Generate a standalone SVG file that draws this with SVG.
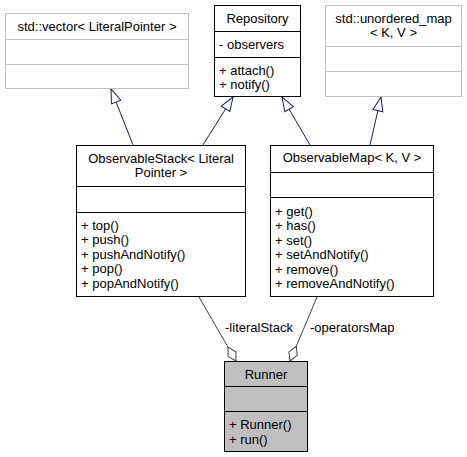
<svg xmlns="http://www.w3.org/2000/svg" width="467" height="457" viewBox="0 0 467 457">
<style>
text { font-family: "Liberation Sans", Arial, Helvetica, sans-serif; font-size: 13px; fill: #000; }
.t { text-anchor: middle; }
.box { fill: #fff; stroke: #000; stroke-width: 1; }
.ext { fill: #fff; stroke: #bfbfbf; stroke-width: 1; }
.cur { fill: #bfbfbf; stroke: #000; stroke-width: 1; }
.sep { stroke: #000; stroke-width: 1; }
.sepx { stroke: #bfbfbf; stroke-width: 1; }
.inh { stroke: #191970; stroke-width: 1; fill: none; marker-end: url(#tri); }
.agg { stroke: #404040; stroke-width: 1; fill: none; marker-end: url(#dia); }
</style>
<defs>
<marker id="tri" markerUnits="userSpaceOnUse" markerWidth="16" markerHeight="12" refX="14" refY="5" orient="auto" overflow="visible">
<path d="M0,0 L14,5 L0,10 Z" fill="#fff" stroke="#191970" stroke-width="1"/>
</marker>
<marker id="dia" markerUnits="userSpaceOnUse" markerWidth="18" markerHeight="11" refX="16" refY="4.5" orient="auto" overflow="visible">
<path d="M0,4.5 L8,0 L16,4.5 L8,9 Z" fill="#fff" stroke="#404040" stroke-width="1"/>
</marker>
</defs>
<rect width="467" height="457" fill="#fff"/>
<g id="connectors">
<line class="inh" x1="133" y1="145" x2="111" y2="89"/>
<line class="inh" x1="203" y1="145" x2="233" y2="97"/>
<line class="inh" x1="310" y1="145" x2="282" y2="97"/>
<line class="inh" x1="370" y1="145" x2="381" y2="97"/>
<line class="agg" x1="199" y1="297" x2="236" y2="361"/>
<line class="agg" x1="317" y1="297" x2="290" y2="361"/>
<text class="t" x="259" y="332">-literalStack</text>
<text x="310" y="332">-operatorsMap</text>
</g>
<g id="vector">
<rect class="ext" x="5.5" y="13.5" width="183" height="75"/>
<line class="sepx" x1="5.5" y1="39.5" x2="188.5" y2="39.5"/>
<line class="sepx" x1="5.5" y1="64.5" x2="188.5" y2="64.5"/>
<text class="t" x="97" y="30.5">std::vector&lt; LiteralPointer &gt;</text>
</g>
<g id="repository">
<rect class="box" x="214.5" y="5.5" width="86" height="91"/>
<line class="sep" x1="214.5" y1="31.5" x2="300.5" y2="31.5"/>
<line class="sep" x1="214.5" y1="57.5" x2="300.5" y2="57.5"/>
<text class="t" x="257.5" y="22.5">Repository</text>
<text x="219" y="48.5">- observers</text>
<text x="219" y="74.5">+ attach()</text>
<text x="219" y="89">+ notify()</text>
</g>
<g id="unordered_map">
<rect class="ext" x="325.5" y="5.5" width="136" height="91"/>
<line class="sepx" x1="325.5" y1="46.5" x2="461.5" y2="46.5"/>
<line class="sepx" x1="325.5" y1="71.5" x2="461.5" y2="71.5"/>
<text class="t" x="393.5" y="22.75">std::unordered_map</text>
<text class="t" x="393.5" y="37.25">&lt; K, V &gt;</text>
</g>
<g id="observablestack">
<rect class="box" x="76.5" y="145.5" width="169" height="151"/>
<line class="sep" x1="76.5" y1="186.5" x2="245.5" y2="186.5"/>
<line class="sep" x1="76.5" y1="212.5" x2="245.5" y2="212.5"/>
<text class="t" x="161" y="162.75">ObservableStack&lt; Literal</text>
<text class="t" x="161" y="177.25">Pointer &gt;</text>
<text x="81" y="229.75">+ top()</text>
<text x="81" y="244.25">+ push()</text>
<text x="81" y="258.75">+ pushAndNotify()</text>
<text x="81" y="273.25">+ pop()</text>
<text x="81" y="287.75">+ popAndNotify()</text>
</g>
<g id="observablemap">
<rect class="box" x="270.5" y="145.5" width="163" height="151"/>
<line class="sep" x1="270.5" y1="172.5" x2="433.5" y2="172.5"/>
<line class="sep" x1="270.5" y1="197.5" x2="433.5" y2="197.5"/>
<text class="t" x="352" y="162">ObservableMap&lt; K, V &gt;</text>
<text x="275" y="215.75">+ get()</text>
<text x="275" y="230.25">+ has()</text>
<text x="275" y="244.75">+ set()</text>
<text x="275" y="259.25">+ setAndNotify()</text>
<text x="275" y="273.75">+ remove()</text>
<text x="275" y="288.25">+ removeAndNotify()</text>
</g>
<g id="runner">
<rect class="cur" x="224.5" y="361.5" width="83" height="90"/>
<line class="sep" x1="224.5" y1="386.5" x2="307.5" y2="386.5"/>
<line class="sep" x1="224.5" y1="411.5" x2="307.5" y2="411.5"/>
<text class="t" x="266" y="378.5">Runner</text>
<text x="229" y="429">+ Runner()</text>
<text x="229" y="443.5">+ run()</text>
</g>
</svg>
